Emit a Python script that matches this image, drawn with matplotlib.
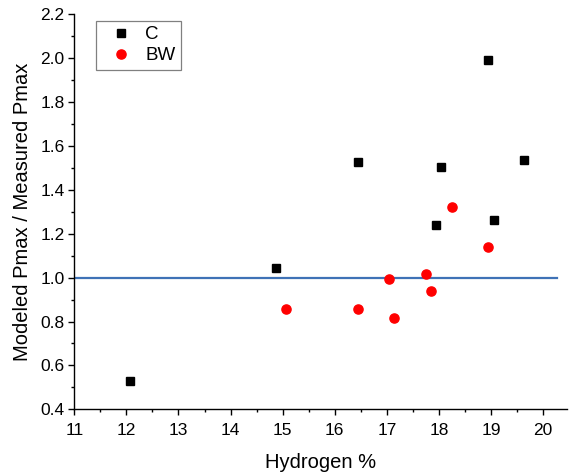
import matplotlib.pyplot as plt
from matplotlib.ticker import MultipleLocator

plt.rcParams["font.family"] = ["Liberation Sans", "DejaVu Sans"]

# C series
c_h2 = [12.07, 14.87, 16.45, 17.95, 18.04, 18.94, 19.05, 19.63]
c_ratio = [0.53, 1.045, 1.525, 1.24, 1.506, 1.99, 1.262, 1.538]

# BW series
bw_h2 = [15.06, 16.45, 17.05, 17.14, 17.75, 17.84, 18.25, 18.94]
bw_ratio = [0.856, 0.859, 0.993, 0.817, 1.018, 0.941, 1.322, 1.138]

# reference line at ratio = 1
ref_x = [11, 20.27]
ref_y = [1.0, 1.0]

fig = plt.figure(figsize=(5.69, 4.75), dpi=100)
ax = fig.add_axes([0.1306, 0.1383, 0.866, 0.8317])

ax.plot(ref_x, ref_y, color="#3f72b6", lw=1.6, zorder=1)
ax.plot(c_h2, c_ratio, ls="none", marker="s", ms=5.8, color="black", label="C", zorder=3)
ax.plot(bw_h2, bw_ratio, ls="none", marker="o", ms=6.6, color="#ff0000", label="BW", zorder=3)

ax.set_xlim(11, 20.46)
ax.set_ylim(0.4, 2.2)
ax.xaxis.set_major_locator(MultipleLocator(1))
ax.xaxis.set_minor_locator(MultipleLocator(0.5))
ax.yaxis.set_major_locator(MultipleLocator(0.2))
ax.yaxis.set_minor_locator(MultipleLocator(0.1))
ax.yaxis.set_major_formatter(plt.FormatStrFormatter("%.1f"))

for side in ["top", "right"]:
    ax.spines[side].set_visible(False)
for side in ["left", "bottom"]:
    ax.spines[side].set_linewidth(1.0)

ax.tick_params(which="major", direction="out", length=4, width=1.0, labelsize=12.5, pad=3)
ax.tick_params(axis="x", which="major", pad=6)
ax.tick_params(which="minor", direction="out", length=2.5, width=1.0)

ax.set_xlabel("Hydrogen %", fontsize=14.5, labelpad=11)
ax.set_ylabel("Modeled Pmax / Measured Pmax", fontsize=14.5, labelpad=6)

leg = ax.legend(loc="upper left", bbox_to_anchor=(0.045, 0.984), borderaxespad=0,
                fontsize=13.5, fancybox=False, edgecolor="#808080", framealpha=1,
                handlelength=2.0, handletextpad=0.3, borderpad=0.3, labelspacing=0.2)
leg.get_frame().set_linewidth(0.9)

fig.savefig("out.png", dpi=100)
